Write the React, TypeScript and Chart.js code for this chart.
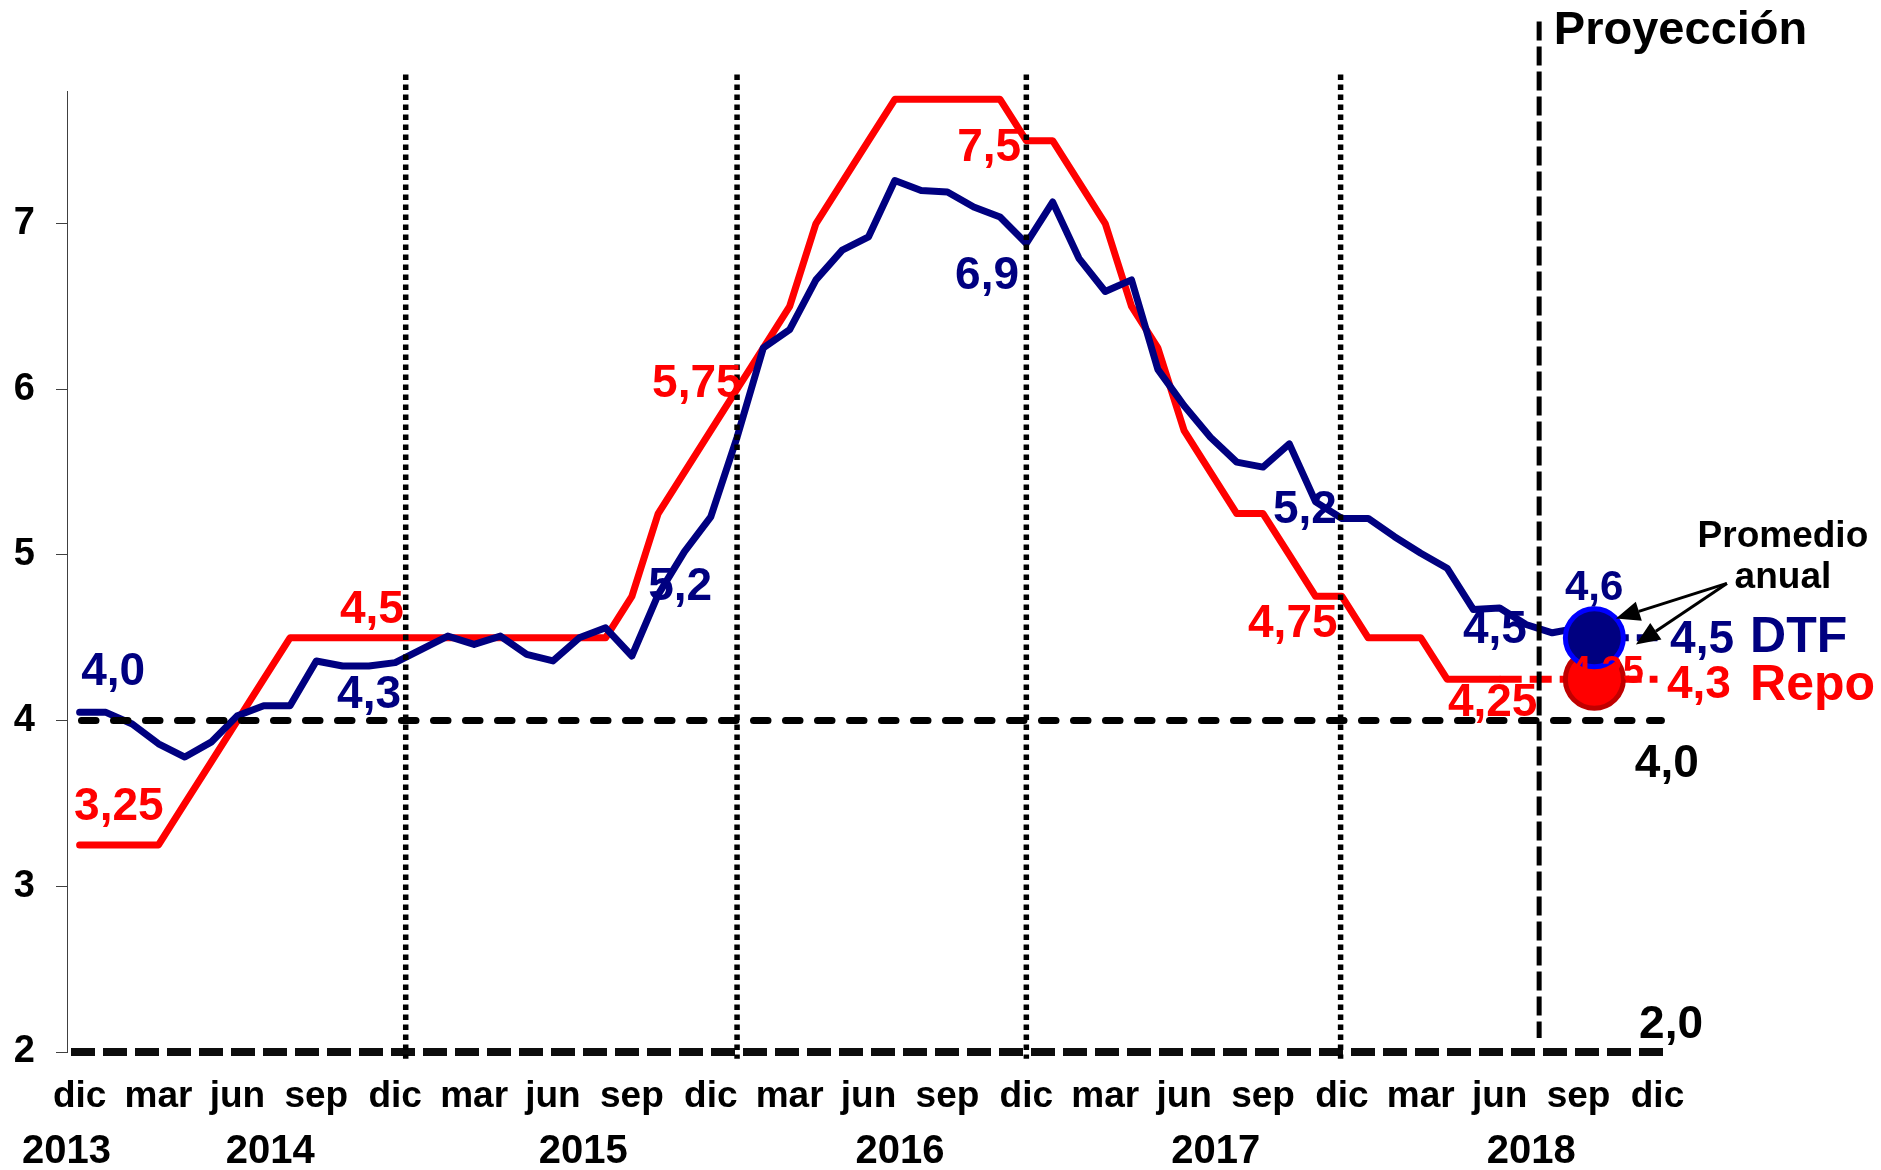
import React, { useEffect, useRef } from "react";
import { Chart, registerables } from "chart.js";

Chart.register(...registerables);

// ---------- data ----------
const monthTickIdx = [0, 3, 6, 9, 12, 15, 18, 21, 24, 27, 30, 33, 36, 39, 42, 45, 48, 51, 54, 57, 60];
const monthLabels = ["dic", "mar", "jun", "sep", "dic", "mar", "jun", "sep", "dic", "mar", "jun", "sep", "dic", "mar", "jun", "sep", "dic", "mar", "jun", "sep", "dic"];
const yearLabels = ["2013", "2014", "2015", "2016", "2017", "2018"];
const yearPos = [-0.5, 7.25, 19.15, 31.2, 43.2, 55.2];
const yTicks = [2, 3, 4, 5, 6, 7];

// DTF monthly, dic 2013 (idx 0) .. sep 2018 (idx 57)
const dtf = [
  4.05, 4.05, 3.98, 3.86, 3.78, 3.87, 4.03, 4.09, 4.09, 4.36, 4.33, 4.33,
  4.35, 4.43, 4.51, 4.46, 4.51, 4.40, 4.36, 4.50, 4.56, 4.39, 4.76, 5.02,
  5.23, 5.71, 6.25, 6.36, 6.66, 6.84, 6.92, 7.26, 7.20, 7.19, 7.10, 7.04,
  6.88, 7.13, 6.79, 6.59, 6.66, 6.12, 5.90, 5.71, 5.56, 5.53, 5.67, 5.32,
  5.22, 5.22, 5.11, 5.01, 4.92, 4.67, 4.68, 4.58, 4.53, 4.56,
];
// Repo monthly, dic 2013 (idx 0) .. jun 2018 (idx 54)
const repo = [
  3.25, 3.25, 3.25, 3.25, 3.5, 3.75, 4.0, 4.25, 4.5, 4.5, 4.5, 4.5,
  4.5, 4.5, 4.5, 4.5, 4.5, 4.5, 4.5, 4.5, 4.5, 4.75, 5.25, 5.5,
  5.75, 6.0, 6.25, 6.5, 7.0, 7.25, 7.5, 7.75, 7.75, 7.75, 7.75, 7.75,
  7.5, 7.5, 7.25, 7.0, 6.5, 6.25, 5.75, 5.5, 5.25, 5.25, 5.0, 4.75,
  4.75, 4.5, 4.5, 4.5, 4.25, 4.25, 4.25,
];
const repoProjStart = 54;
const repoProj = [4.25, 4.25, 4.25, 4.25, 4.25, 4.25, 4.25];
const dtfProjStart = 57;
const dtfProj = [4.56, 4.5, 4.5, 4.5];
const avgPos = 57.6;
const dtfAvg = 4.5;
const repoAvg = 4.25;

const dividers = [12.4, 25, 36, 47.95];
const projectionLine = 55.5;
const refLevel = 4.0;
const baseLevel = 2.0;

// ---------- style / annotation config ----------
const NAVY = "#000080";
const RED = "#ff0000";
const FONT = '"Liberation Sans", Arial, Helvetica, sans-serif';
const f = (s: number) => `bold ${s}px ${FONT}`;

const notes = [
  { t: "4,0", x: 0.06, y: 4.218, c: NAVY, s: 46, a: "left" },
  { t: "3,25", x: -0.21, y: 3.402, c: RED, s: 46, a: "left" },
  { t: "4,5", x: 9.9, y: 4.592, c: RED, s: 46, a: "left" },
  { t: "4,3", x: 9.79, y: 4.079, c: NAVY, s: 46, a: "left" },
  { t: "5,75", x: 21.77, y: 5.952, c: RED, s: 46, a: "left" },
  { t: "5,2", x: 21.62, y: 4.731, c: NAVY, s: 46, a: "left" },
  { t: "7,5", x: 33.37, y: 7.378, c: RED, s: 46, a: "left" },
  { t: "6,9", x: 33.29, y: 6.604, c: NAVY, s: 46, a: "left" },
  { t: "5,2", x: 45.38, y: 5.19, c: NAVY, s: 46, a: "left" },
  { t: "4,75", x: 44.43, y: 4.502, c: RED, s: 46, a: "left" },
  { t: "4,5", x: 52.6, y: 4.471, c: NAVY, s: 46, a: "left" },
  { t: "4,25", x: 52.03, y: 4.03, c: RED, s: 46, a: "left" },
  { t: "4,6", x: 56.48, y: 4.725, c: NAVY, s: 42, a: "left" },
  { t: "4,25", x: 56.67, y: 4.23, c: RED, s: 38, a: "left" },
  { t: "4,5", x: 60.48, y: 4.411, c: NAVY, s: 46, a: "left" },
  { t: "DTF", x: 63.52, y: 4.417, c: NAVY, s: 50, a: "left" },
  { t: "4,3", x: 60.36, y: 4.139, c: RED, s: 46, a: "left" },
  { t: "Repo", x: 63.52, y: 4.127, c: RED, s: 50, a: "left" },
  { t: "4,0", x: 59.14, y: 3.662, c: "#000", s: 46, a: "left" },
  { t: "2,0", x: 59.3, y: 2.085, c: "#000", s: 46, a: "left" },
  { t: "Proyección", x: 56.06, y: 8.085, c: "#000", s: 47, a: "left" },
  { t: "Promedio", x: 64.77, y: 5.045, c: "#000", s: 37, a: "center" },
  { t: "anual", x: 64.77, y: 4.798, c: "#000", s: 37, a: "center" },
];
const arrowFrom = { x: 62.64, y: 4.828 };
const arrowTips = [
  { x: 58.42, y: 4.616 },
  { x: 59.18, y: 4.459 },
];

const pts = (arr: number[], start = 0) => arr.map((v, i) => ({ x: start + i, y: v }));

const baseAxis = {
  id: "baseAxis",
  beforeDatasetsDraw(chart: any) {
    const { ctx, chartArea } = chart;
    const xs = chart.scales.x;
    const ys = chart.scales.y;
    ctx.save();
    ctx.strokeStyle = "#0d0d0d";
    ctx.lineWidth = 8;
    ctx.lineCap = "butt";
    ctx.setLineDash([24, 8]);
    ctx.lineDashOffset = -4;
    ctx.beginPath();
    ctx.moveTo(chartArea.left, ys.getPixelForValue(baseLevel));
    ctx.lineTo(xs.getPixelForValue(60.35), ys.getPixelForValue(baseLevel));
    ctx.stroke();
    ctx.restore();
  },
};

const overlay = {
  id: "overlay",
  afterDatasetsDraw(chart: any) {
    const { ctx, chartArea } = chart;
    const xs = chart.scales.x;
    const ys = chart.scales.y;
    const X = (v: number) => xs.getPixelForValue(v);
    const Y = (v: number) => ys.getPixelForValue(v);
    ctx.save();

    // year dividers (dotted)
    ctx.strokeStyle = "#000";
    ctx.lineWidth = 5.5;
    ctx.lineCap = "butt";
    ctx.setLineDash([5.5, 4.5]);
    dividers.forEach((d) => {
      const px = X(d);
      ctx.beginPath();
      ctx.moveTo(px, Y(7.9));
      ctx.lineTo(px, Y(1.96));
      ctx.stroke();
    });

    // projection divider (dashed)
    ctx.lineWidth = 5;
    ctx.setLineDash([19, 6]);
    ctx.beginPath();
    ctx.moveTo(X(projectionLine), Y(8.22));
    ctx.lineTo(X(projectionLine), Y(2.085));
    ctx.stroke();

    // 4,0 reference
    ctx.lineWidth = 7;
    ctx.lineCap = "round";
    ctx.setLineDash([14.5, 17.5]);
    ctx.lineDashOffset = 17.5;
    ctx.beginPath();
    ctx.moveTo(chartArea.left, Y(refLevel));
    ctx.lineTo(X(60.15), Y(refLevel));
    ctx.stroke();
    ctx.setLineDash([]);
    ctx.lineDashOffset = 0;

    // arrows
    ctx.lineCap = "butt";
    ctx.lineWidth = 3;
    ctx.fillStyle = "#000";
    arrowTips.forEach((tp) => {
      const x0 = X(arrowFrom.x), y0 = Y(arrowFrom.y);
      const x1 = X(tp.x), y1 = Y(tp.y);
      const ang = Math.atan2(y1 - y0, x1 - x0);
      const L = 24, W = 10;
      const bx = x1 - L * Math.cos(ang), by = y1 - L * Math.sin(ang);
      ctx.beginPath();
      ctx.moveTo(x0, y0);
      ctx.lineTo(bx, by);
      ctx.stroke();
      ctx.beginPath();
      ctx.moveTo(x1, y1);
      ctx.lineTo(bx + W * Math.sin(ang), by - W * Math.cos(ang));
      ctx.lineTo(bx - W * Math.sin(ang), by + W * Math.cos(ang));
      ctx.closePath();
      ctx.fill();
    });

    // annotation texts
    ctx.textBaseline = "alphabetic";
    notes.forEach((n) => {
      ctx.font = f(n.s);
      ctx.fillStyle = n.c;
      ctx.textAlign = n.a as CanvasTextAlign;
      ctx.fillText(n.t, X(n.x), Y(n.y));
    });

    // x axis labels
    ctx.fillStyle = "#000";
    ctx.textAlign = "center";
    ctx.font = f(37);
    monthTickIdx.forEach((m, i) => {
      ctx.fillText(monthLabels[i], X(m), chartArea.bottom + 55);
    });
    ctx.font = f(40);
    yearLabels.forEach((yl, i) => {
      ctx.fillText(yl, X(yearPos[i]), chartArea.bottom + 111);
    });
    ctx.restore();
  },
};

export default function App() {
  const ref = useRef<HTMLCanvasElement | null>(null);
  useEffect(() => {
    if (!ref.current) return;
    const chart = new Chart(ref.current, {
      type: "line",
      data: {
        datasets: [
          {
            label: "DTF promedio",
            data: [{ x: avgPos, y: dtfAvg }],
            showLine: false,
            pointRadius: 29,
            pointBorderWidth: 5,
            pointBackgroundColor: NAVY,
            pointBorderColor: "#0000ff",
            order: -2,
          } as any,
          {
            label: "Repo promedio",
            data: [{ x: avgPos, y: repoAvg }],
            showLine: false,
            pointRadius: 29,
            pointBorderWidth: 5,
            pointBackgroundColor: RED,
            pointBorderColor: "#c00000",
            order: -1,
          },
          {
            label: "DTF",
            data: pts(dtf),
            borderColor: NAVY,
            borderWidth: 7,
            pointRadius: 0,
            tension: 0,
            borderJoinStyle: "round",
            borderCapStyle: "round",
            order: 1,
          },
          {
            label: "Repo",
            data: pts(repo),
            borderColor: RED,
            borderWidth: 7,
            pointRadius: 0,
            tension: 0,
            borderJoinStyle: "round",
            borderCapStyle: "round",
            order: 2,
          },
          {
            label: "Repo proy",
            data: pts(repoProj, repoProjStart),
            borderColor: RED,
            borderWidth: 7,
            borderDash: [22, 8],
            pointRadius: 0,
            order: 3,
          },
          {
            label: "DTF proy",
            data: pts(dtfProj, dtfProjStart),
            borderColor: NAVY,
            borderWidth: 7,
            borderDash: [22, 8],
            pointRadius: 0,
            order: 3,
          },
        ],
      },
      options: {
        responsive: false,
        animation: false,
        devicePixelRatio: 1,
        layout: { padding: { top: 91, right: 213, left: 0, bottom: 0 } },
        plugins: { legend: { display: false }, tooltip: { enabled: false } },
        scales: {
          x: {
            type: "linear",
            min: -0.48,
            max: 60.4,
            ticks: { display: false },
            grid: { display: false, drawOnChartArea: false, drawTicks: false },
            border: { display: false },
            afterFit: (s: any) => {
              s.height = 118;
            },
          },
          y: {
            type: "linear",
            min: 2,
            max: 7.8,
            afterBuildTicks: (s: any) => {
              s.ticks = yTicks.map((v) => ({ value: v }));
            },
            ticks: {
              color: "#000",
              padding: 21,
              font: { family: FONT, size: 38, weight: "bold" },
              callback: (v: any) => String(v),
            },
            grid: { drawOnChartArea: false, drawTicks: true, tickLength: 11, color: "#404040", lineWidth: 1 },
            border: { color: "#404040", width: 1 },
            afterFit: (s: any) => {
              s.width = 67;
            },
          },
        },
      },
      plugins: [baseAxis, overlay],
    } as any);
    return () => chart.destroy();
  }, []);
  return (
    <div style={{ position: "absolute", left: 0, top: 0, width: 1881, height: 1170, background: "#fff" }}>
      <canvas ref={ref} width={1881} height={1170} style={{ display: "block" }} />
    </div>
  );
}
